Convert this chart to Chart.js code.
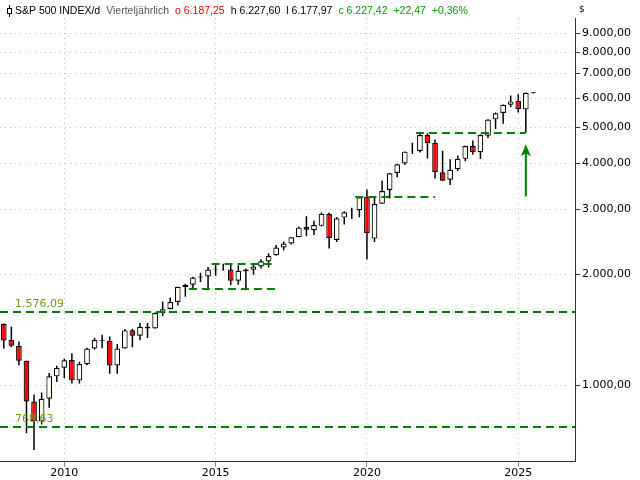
<!DOCTYPE html>
<html><head><meta charset="utf-8">
<script src="https://cdn.jsdelivr.net/npm/chart.js@4/dist/chart.umd.min.js"></script>
<style>html,body{margin:0;padding:0;background:#fff}#c{width:640px;height:480px}</style>
</head><body><div id="c"><canvas id="cv" width="640" height="480"></canvas></div>
<script>
const quarters = [];
for (let y = 2008; y <= 2025; y++) for (let q = 1; q <= 4; q++) quarters.push(y + 'Q' + q);
const labels = quarters.slice(0, 71).concat(['', '', '', '', '']);
const opens = [1468,1326,1280,1164,903,798,919,1057,1116,1171,1031,1141,1258,1329,1320,1131,1258,1409,1362,1441,1426,1569,1610,1682,1846,1873,1960,1971,2059,2067,2058,1919,2038,2057,2099,2165,2251,2363,2424,2521,2684,2633,2705,2911,2476,2848,2971,2983,3245,2498,3105,3385,3764,3992,4300,4318,4778,4540,3781,3609,3853,4109,4454,4284,4745,5258,5471,5758,5903,5597,6187.25];
const highs = [1471,1440,1313,1167,944,956,1080,1130,1180,1220,1157,1263,1344,1371,1356,1293,1420,1422,1475,1474,1574,1687,1729,1849,1884,1968,2019,2093,2120,2135,2133,2116,2073,2121,2194,2278,2401,2454,2519,2695,2873,2791,2941,2940,2860,2964,3028,3248,3394,3233,3588,3760,3984,4302,4546,4809,4819,4637,4325,4101,4195,4458,4608,4794,5265,5488,5768,6099,6147,6215,6227.60];
const lows = [1257,1270,1133,741,667,783,869,1020,1045,1011,1011,1132,1249,1259,1074,1075,1258,1267,1325,1343,1426,1537,1604,1646,1737,1814,1904,1821,1981,2048,1867,1872,1810,1992,2074,2084,2245,2322,2406,2520,2533,2554,2699,2347,2444,2729,2822,2855,2192,2447,3105,3209,3662,3962,4233,4278,4115,3637,3584,3492,3809,4048,4216,4104,4683,4953,5119,5674,5488,4835,6177.97];
const closes = [1322,1280,1166,903,798,919,1057,1115,1169,1031,1141,1258,1326,1321,1131,1258,1408,1362,1441,1426,1569,1606,1682,1848,1872,1960,1972,2059,2068,2063,1920,2044,2060,2099,2168,2239,2363,2423,2519,2674,2641,2718,2914,2507,2834,2942,2977,3231,2585,3100,3363,3756,3973,4298,4308,4766,4530,3785,3586,3840,4109,4450,4288,4770,5254,5460,5762,5882,5612,6205,6227.42];
const yTicks = [1000,2000,3000,4000,5000,6000,7000,8000,9000];
const xTickYears = ['2010Q1','2015Q1','2020Q1','2025Q1'];
// horizontal levels: [value, startIndex, endIndex, label]
const levelValues = [1576.09, 768.63, 4818, 3240, 2130, 1820];
const levelStart = [null, null, 55, 47, 28, 25];
const levelEnd = [null, null, 69, 57, 36, 36];
const levelLabels = ['1.576,09', '768,63', '', '', '', ''];
const arrowIndex = 69, arrowFrom = 3250, arrowTo = 4500;

const de = v => v.toLocaleString('de-DE', {minimumFractionDigits: 2, maximumFractionDigits: 2});
const bodies = opens.map((o, i) => [o, closes[i]]);
const wicks = lows.map((l, i) => [l, highs[i]]);
const bodyColors = opens.map((o, i) => closes[i] < o ? '#ff0000' : '#fffff0');

const overlay = {
  id: 'overlay',
  afterDatasetsDraw(chart) {
    const {ctx, chartArea: a, scales: {x, y}} = chart;
    ctx.save();
    ctx.strokeStyle = '#008000'; ctx.lineWidth = 2; ctx.setLineDash([8, 5]);
    levelValues.forEach((v, i) => {
      const py = Math.round(y.getPixelForValue(v));
      const x0 = levelStart[i] == null ? a.left : x.getPixelForValue(levelStart[i]) - 4;
      const x1 = levelEnd[i] == null ? a.right : x.getPixelForValue(levelEnd[i]);
      ctx.beginPath(); ctx.moveTo(x0, py); ctx.lineTo(x1, py); ctx.stroke();
      if (levelLabels[i]) {
        ctx.fillStyle = '#6b9a1f'; ctx.font = '11px "DejaVu Sans"';
        ctx.fillText(levelLabels[i], a.left + 15, py - 5);
      }
    });
    ctx.setLineDash([]);
    const ax = x.getPixelForValue(arrowIndex), ay0 = y.getPixelForValue(arrowFrom), ay1 = y.getPixelForValue(arrowTo);
    ctx.beginPath(); ctx.moveTo(ax, ay0); ctx.lineTo(ax, ay1 + 6); ctx.stroke();
    ctx.fillStyle = '#008000';
    ctx.beginPath(); ctx.moveTo(ax, ay1); ctx.lineTo(ax - 5, ay1 + 12); ctx.lineTo(ax, ay1 + 9); ctx.lineTo(ax + 5, ay1 + 12); ctx.closePath(); ctx.fill();
    // header
    ctx.font = '10.5px "Liberation Sans"'; ctx.textBaseline = 'middle';
    let tx = 15; const ty = 11;
    ctx.strokeStyle = '#000'; ctx.lineWidth = 1;
    ctx.beginPath(); ctx.moveTo(9.5, 5); ctx.lineTo(9.5, 17); ctx.stroke();
    ctx.fillStyle = '#fff'; ctx.fillRect(7.5, 8.5, 4, 5); ctx.strokeRect(7.5, 8.5, 4, 5);
    const parts = [['S&P 500 INDEX/d', '#000'], ['Vierteljährlich', '#555'], ['o 6.187,25', '#ff0000'], ['h 6.227,60', '#000'], ['l 6.177,97', '#000'], ['c 6.227,42', '#00a000'], ['+22,47', '#00a000'], ['+0,36%', '#00a000']];
    parts.forEach(([t, c]) => { ctx.fillStyle = c; ctx.fillText(t, tx, ty); tx += ctx.measureText(t).width + 6; });
    ctx.fillStyle = '#000'; ctx.font = '9px "DejaVu Sans"'; ctx.fillText('$', 579, 10);
    ctx.restore();
  }
};

new Chart(document.getElementById('cv'), {
  type: 'bar',
  data: {
    labels,
    datasets: [
      {data: bodies, backgroundColor: bodyColors, borderColor: '#000', borderWidth: 1.2, borderSkipped: false, barPercentage: 0.75, categoryPercentage: 1, grouped: false, order: 1},
      {data: wicks, backgroundColor: '#000', borderWidth: 0, maxBarThickness: 1.5, grouped: false, order: 2}
    ]
  },
  plugins: [overlay],
  options: {
    responsive: false, animation: false,
    layout: {padding: {top: 18, left: 0, right: 0, bottom: 0}},
    plugins: {legend: {display: false}, tooltip: {enabled: false}},
    scales: {
      x: {
        offset: true,
        grid: {offset: false, color: ctx => xTickYears.includes(labels[ctx.index]) ? '#c0c0c0' : 'transparent', drawTicks: true, tickLength: 5, tickColor: ctx => xTickYears.includes(labels[ctx.index]) ? '#888' : 'transparent'},
        border: {display: true, color: '#333', dash: [1, 4]},
        ticks: {autoSkip: false, maxRotation: 0, color: '#000', font: {family: 'DejaVu Sans', size: 11}, padding: 0,
          callback: (v, i) => xTickYears.includes(labels[i]) ? labels[i].slice(0, 4) : ''}
      },
      y: {
        type: 'logarithmic', position: 'right', min: 620, max: 9900,
        afterBuildTicks: s => { s.ticks = yTicks.map(v => ({value: v})); },
        afterFit: s => { s.width = 65; },
        grid: {color: '#c8c8c8', tickLength: 5, tickColor: '#333'},
        border: {display: true, color: '#333', dash: [1, 4]},
        ticks: {color: '#000', font: {family: 'DejaVu Sans', size: 11}, padding: 2, callback: v => de(v)}
      }
    }
  }
});
</script></body></html>
